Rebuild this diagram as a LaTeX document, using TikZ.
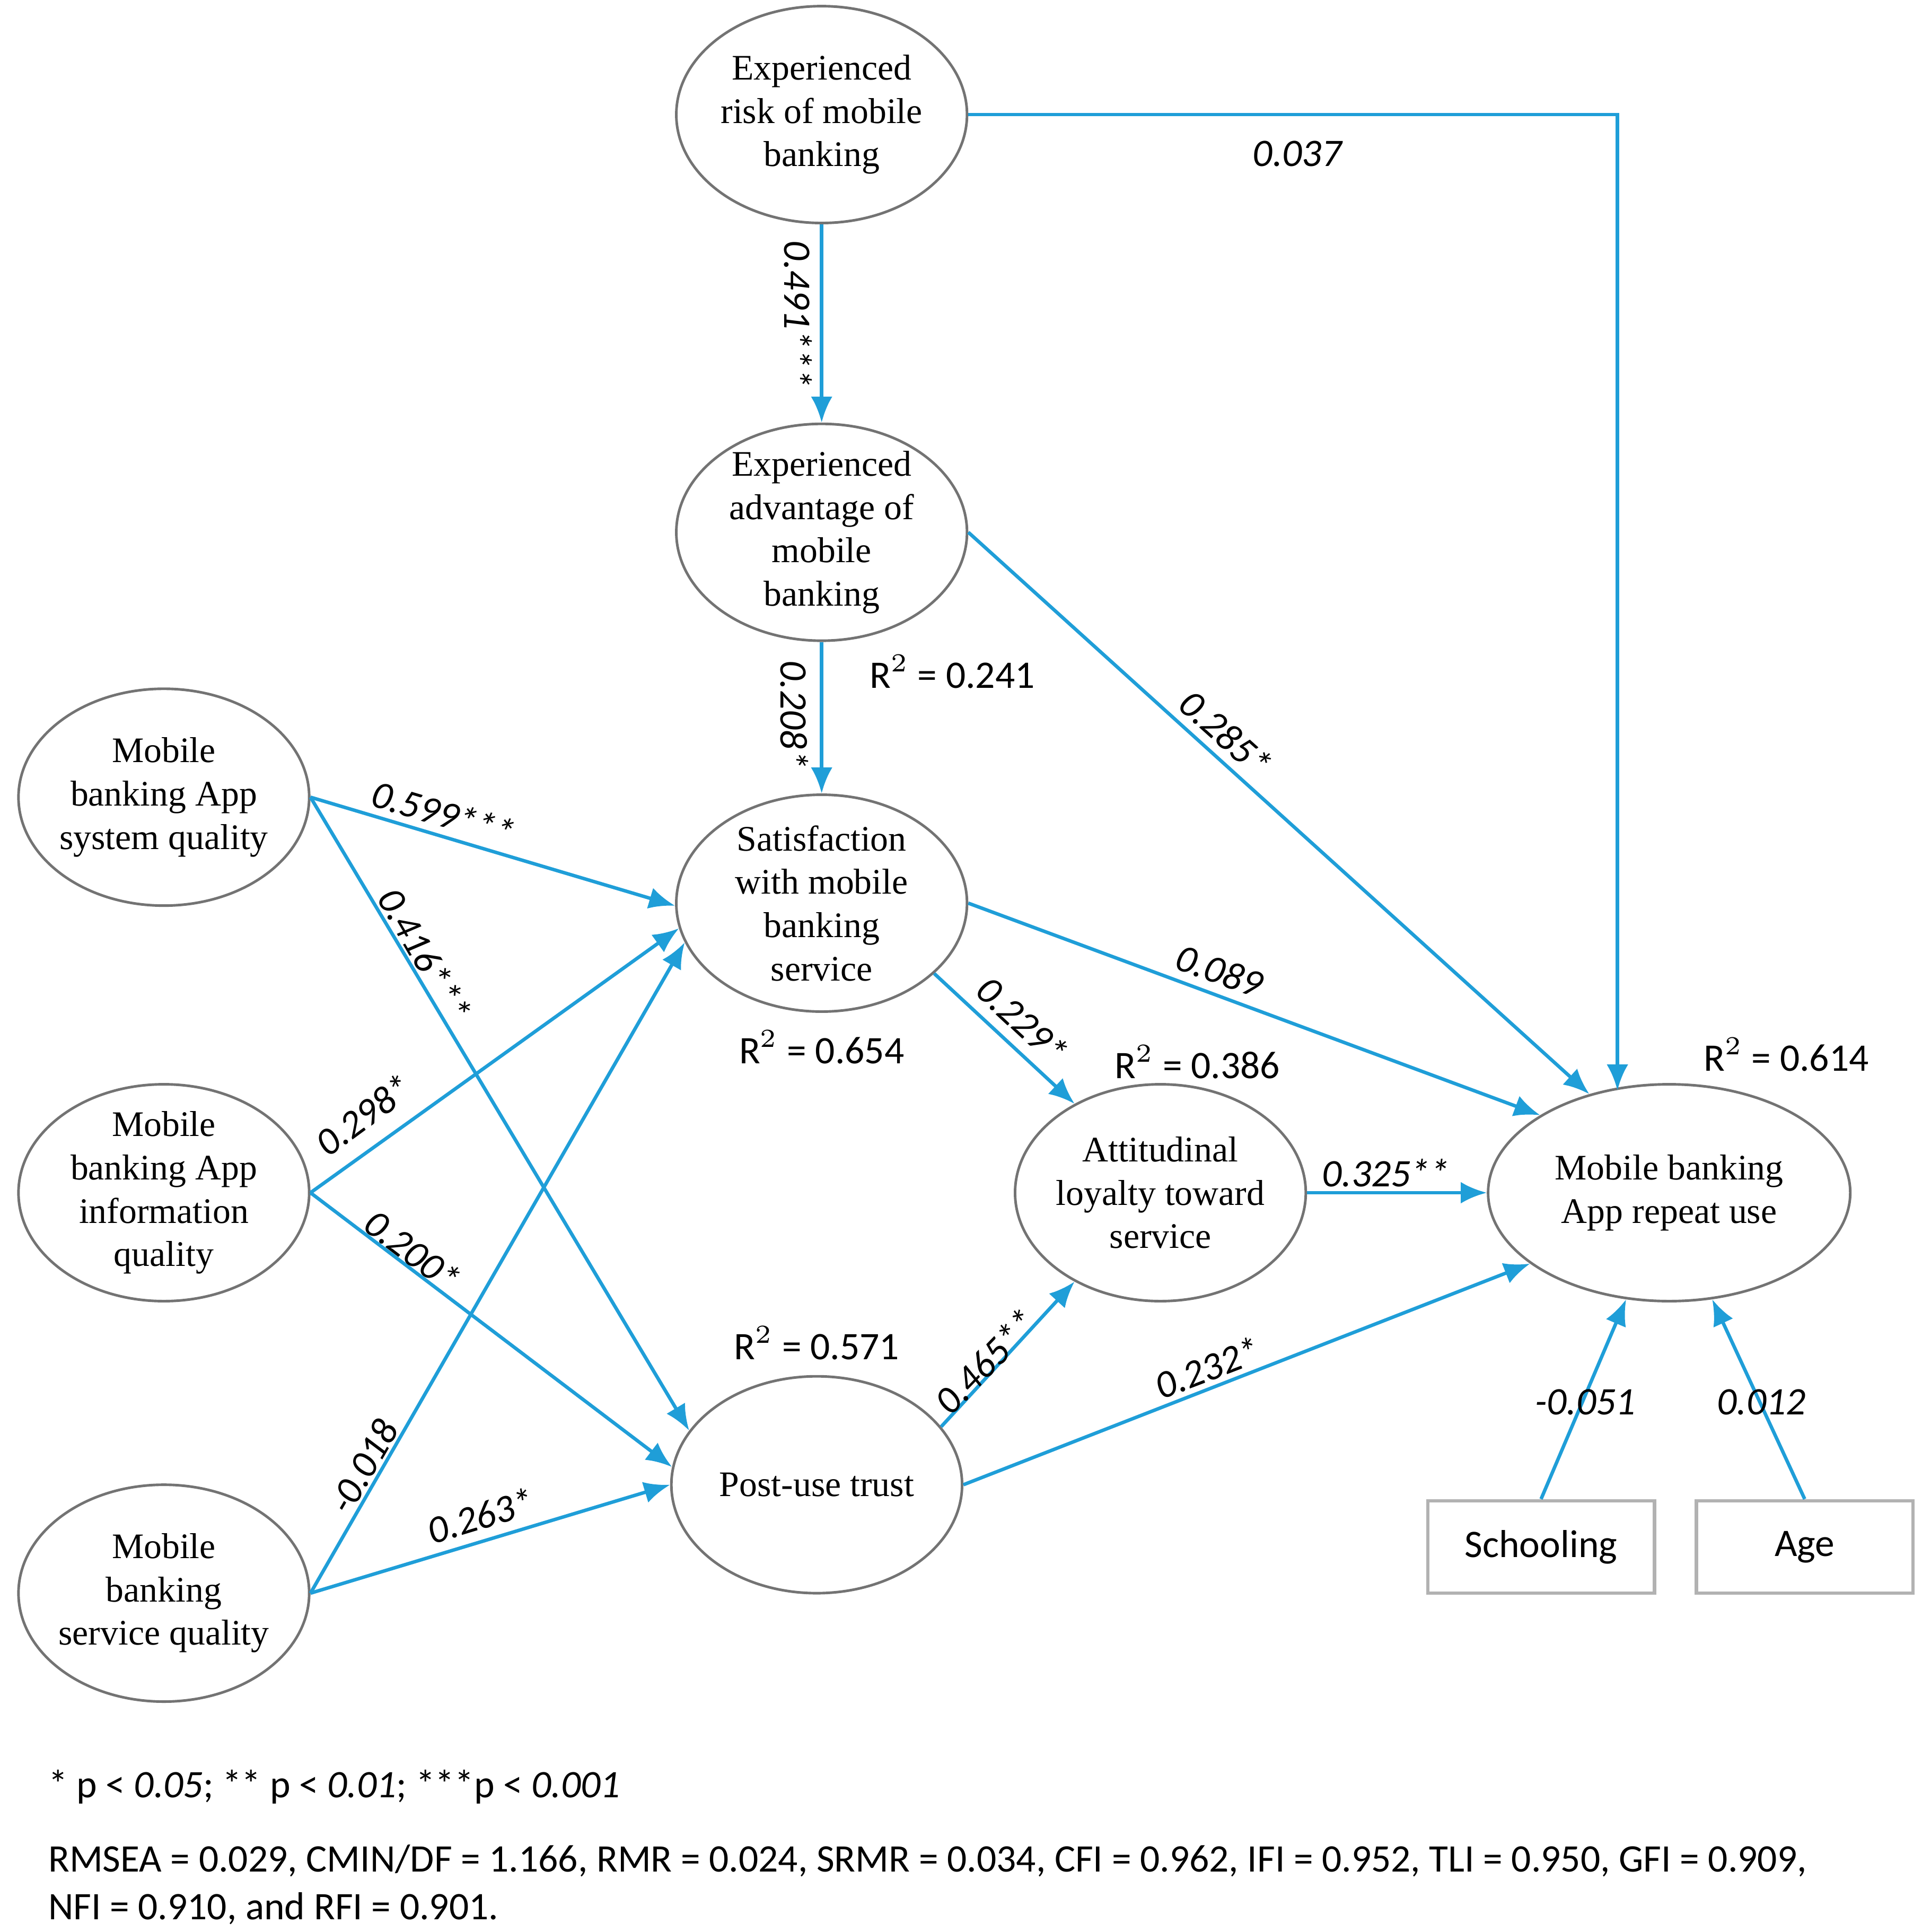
\documentclass[tikz,border=0pt]{standalone}
\usepackage{fontspec}
\setmainfont{Liberation Serif}
\newfontfamily\lab{Carlito}
\usetikzlibrary{arrows.meta,shapes.geometric}
\begin{document}
\begin{tikzpicture}[
  ell/.style={ellipse,draw=black!55,line width=0.6pt,minimum width=2.36cm,minimum height=1.76cm,inner sep=-2pt,align=center,font=\fontsize{8.3}{10}\selectfont},
  box/.style={draw=black!30,line width=0.8pt,minimum width=1.84cm,minimum height=0.75cm,font=\lab\fontsize{9}{11}\selectfont},
  arr/.style={draw={rgb,255:red,31;green,158;blue,216},line width=0.8pt,-{Latex[length=6pt,width=5pt]}},
  lb/.style={font=\lab\itshape\fontsize{9}{11}\selectfont,inner sep=1pt},
  rs/.style={font=\lab\fontsize{9}{11}\selectfont,inner sep=1pt}
]
\useasboundingbox (0,0) rectangle (15.6,-15.68);
\node[ell] (risk) at (6.67,-0.93) {Experienced\\risk of mobile\\banking};
\node[ell] (adv) at (6.67,-4.32) {Experienced\\advantage of\\mobile\\banking};
\node[ell] (sys) at (1.33,-6.47) {Mobile\\banking App\\system quality};
\node[ell] (info) at (1.33,-9.68) {Mobile\\banking App\\information\\quality};
\node[ell] (serv) at (1.33,-12.93) {Mobile\\banking\\service quality};
\node[ell] (sat) at (6.67,-7.33) {Satisfaction\\with mobile\\banking\\service};
\node[ell] (trust) at (6.63,-12.05) {Post-use trust};
\node[ell] (att) at (9.42,-9.68) {Attitudinal\\loyalty toward\\service};
\node[ell,minimum width=2.94cm] (rep) at (13.55,-9.68) {Mobile banking\\App repeat use};
\node[box] (school) at (12.51,-12.555) {Schooling};
\node[box,minimum width=1.76cm] (age) at (14.65,-12.555) {Age};
\coordinate (corner) at (13.13,-0.93);
\coordinate (rtop) at (13.13,-8.85);
\draw[arr] (risk.east) -- (corner) -- (rtop);
\draw[arr] (risk.south) -- (adv.north);
\draw[arr] (adv.south) -- (sat.north);
\draw[arr] (adv.east) -- (rep.129);
\draw[arr] (sys.east) -- (sat.181);
\draw[arr] (sys.east) -- (trust.157);
\draw[arr] (info.east) -- (sat.190);
\draw[arr] (info.east) -- (trust.173);
\draw[arr] (serv.east) -- (sat.196);
\draw[arr] (serv.east) -- (trust.180);
\draw[arr] (sat.328) -- (att.134);
\draw[arr] (sat.east) -- (rep.149);
\draw[arr] (att.east) -- (rep.west);
\draw[arr] (trust.25) -- (att.226);
\draw[arr] (trust.east) -- (rep.207);
\draw[arr] (school.north) -- (rep.248);
\draw[arr] (age.north) -- (rep.292);
\node[lb] (l1) at (10.53,-1.25) {0.037};
\node[lb,rotate=-90] (l2) at (6.48,-2.55) {0.491***};
\node[lb,rotate=-90] (l3) at (6.45,-5.8) {0.208*};
\node[lb,rotate=-42] (l4) at (9.95,-5.95) {0.285*};
\node[lb,rotate=-16.6] (l5) at (3.6,-6.6) {0.599***};
\node[lb,rotate=-59.9] (l6) at (3.45,-7.75) {0.416***};
\node[lb,rotate=36.3] (l7) at (2.95,-9.05) {0.298*};
\node[lb,rotate=-37.4] (l8) at (3.35,-10.15) {0.200*};
\node[lb,rotate=60] (l9) at (2.95,-11.9) {-0.018};
\node[lb,rotate=16.9] (l10) at (3.9,-12.3) {0.263*};
\node[lb,rotate=-43] (l11) at (8.3,-8.28) {0.229*};
\node[lb,rotate=-19.9] (l12) at (9.9,-7.88) {0.089};
\node[lb] (l13) at (11.25,-9.52) {0.325**};
\node[lb,rotate=46] (l14) at (8.0,-11.05) {0.465**};
\node[lb,rotate=20.9] (l15) at (9.8,-11.1) {0.232*};
\node[lb] (l16) at (12.87,-11.38) {-0.051};
\node[lb] (l17) at (14.3,-11.38) {0.012};
\node[rs] (r1) at (7.73,-5.45) {R$^{2}$ = 0.241};
\node[rs] (r2) at (6.67,-8.5) {R$^{2}$ = 0.654};
\node[rs] (r3) at (9.72,-8.62) {R$^{2}$ = 0.386};
\node[rs] (r4) at (6.63,-10.9) {R$^{2}$ = 0.571};
\node[rs] (r5) at (14.5,-8.56) {R$^{2}$ = 0.614};
\node[rs,anchor=west] (f1) at (0.35,-14.5) {* p < \textit{0.05}; ** p < \textit{0.01}; ***p < \textit{0.001}};
\node[rs,anchor=north west,align=left] (f2) at (0.35,-14.93) {RMSEA = 0.029, CMIN/DF = 1.166, RMR = 0.024, SRMR = 0.034, CFI = 0.962, IFI = 0.952, TLI = 0.950, GFI = 0.909,\\NFI = 0.910, and RFI = 0.901.};
\end{tikzpicture}
\end{document}
